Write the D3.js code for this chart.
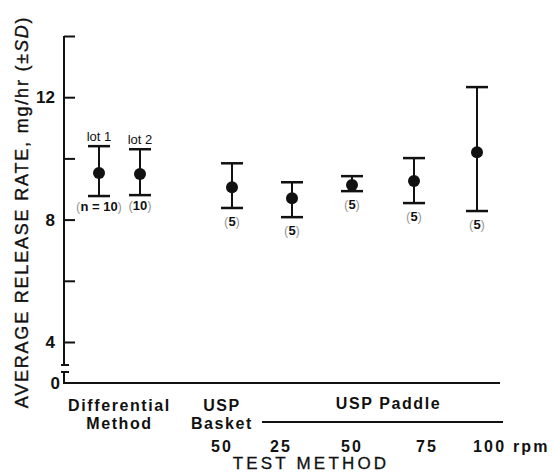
<!DOCTYPE html>
<html>
<head>
<meta charset="utf-8">
<script src="https://d3js.org/d3.v7.min.js"></script>
<style>
  body { margin: 0; background: #fff; }
  text { font-family: "Liberation Sans", Arial, sans-serif; fill: #111; }
</style>
</head>
<body>
<script>
// data
const categories = ['lot 1', 'lot 2', 'Basket 50', 'Paddle 25', 'Paddle 50', 'Paddle 75', 'Paddle 100']
const means = [9.52, 9.49, 9.06, 8.70, 9.13, 9.26, 10.20]
const upper = [10.40, 10.30, 9.84, 9.22, 9.42, 10.01, 12.33]
const lower = [8.77, 8.80, 8.38, 8.08, 8.93, 8.54, 8.28]
const nLabels = ['n = 10', '10', '5', '5', '5', '5', '5']
const topLabels = ['lot 1', 'lot 2', '', '', '', '', '']
const yTicks = [4, 6, 8, 10, 12, 14]
const yTickLabels = {4: '4', 8: '8', 12: '12'}
const rpmLabels = ['50', '25', '50', '75', '100 rpm']

const width = 553, height = 476
const svg = d3.select('body').append('svg')
    .attr('width', width)
    .attr('height', height)

const axisX = 64
const y = d3.scaleLinear().domain([0, 4, 14]).range([383, 342, 36])
const x = d3.scaleOrdinal().domain(categories).range([99, 140, 232, 292, 352, 414, 477])

// y axis (ticks pointing inward, labels only on 4, 8, 12)
const yAxis = d3.axisLeft(y)
    .tickValues(yTicks)
    .tickSize(-11)
    .tickPadding(9)
    .tickFormat(d => yTickLabels[d] || '')
const gy = svg.append('g')
    .attr('transform', `translate(${axisX},0)`)
    .call(yAxis)
gy.select('.domain').remove()
gy.selectAll('.tick line').attr('stroke', '#111').attr('stroke-width', 2)
gy.selectAll('.tick text')
    .attr('font-size', 17)
    .attr('font-weight', 'bold')
    .attr('font-family', '"Liberation Sans", Arial, sans-serif')
    .attr('fill', '#111')

// axis line with break between 4 and 0
const axisLine = svg.append('g').attr('stroke', '#111').attr('stroke-width', 2).attr('fill', 'none')
axisLine.append('path').attr('d', `M${axisX},${y(14)}V365M${axisX - 3},365H${axisX + 5}`)
axisLine.append('path').attr('d', `M${axisX - 3},372H${axisX + 5}M${axisX},372V${y(0)}`)
svg.append('text')
    .attr('x', 60).attr('y', y(0) + 6)
    .attr('text-anchor', 'end')
    .attr('font-size', 17).attr('font-weight', 'bold')
    .text('0')

// x axis and paddle bracket
axisLine.append('path').attr('d', `M${axisX - 1},${y(0)}H500`)
axisLine.append('path').attr('d', `M262,422H503`)

// error bars
const bars = svg.append('g')
categories.forEach((c, i) => {
    const cx = x(c)
    bars.append('line')
        .attr('x1', cx).attr('x2', cx)
        .attr('y1', y(upper[i])).attr('y2', y(lower[i]))
        .attr('stroke', '#111').attr('stroke-width', 2)
    bars.selectAll(null).data([upper[i], lower[i]]).enter().append('line')
        .attr('x1', cx - 11).attr('x2', cx + 11)
        .attr('y1', d => y(d)).attr('y2', d => y(d))
        .attr('stroke', '#111').attr('stroke-width', 2.5)
})

svg.append('g').selectAll('circle')
    .data(categories)
    .enter()
    .append('circle')
        .attr('cx', d => x(d))
        .attr('cy', (d, i) => y(means[i]))
        .attr('r', 6)
        .attr('fill', '#111')

// n labels below each bar
const nText = svg.append('g').selectAll('text')
    .data(categories)
    .enter()
    .append('text')
        .attr('x', d => x(d))
        .attr('y', (d, i) => y(lower[i]) + (i < 2 ? 15 : 18))
        .attr('text-anchor', 'middle')
        .attr('font-size', 13)
        .attr('font-weight', 'bold')
nText.append('tspan').attr('fill', '#999').attr('font-weight', 'normal').text('(')
nText.append('tspan').text((d, i) => nLabels[i])
nText.append('tspan').attr('fill', '#999').attr('font-weight', 'normal').text(')')

svg.append('g').selectAll('text')
    .data(categories.filter((d, i) => topLabels[i]))
    .enter()
    .append('text')
        .attr('x', d => x(d))
        .attr('y', d => y(upper[categories.indexOf(d)]) - 5)
        .attr('text-anchor', 'middle')
        .attr('font-size', 13)
        .text(d => topLabels[categories.indexOf(d)])

// category labels
const catLabel = (tx, ty, t, size, anchor, spacing) => svg.append('text')
    .attr('x', tx).attr('y', ty)
    .attr('text-anchor', anchor || 'middle')
    .attr('font-size', size || 16)
    .attr('font-weight', 'bold')
    .attr('letter-spacing', spacing || 1.6)
    .text(t)

const midLots = (x('lot 1') + x('lot 2')) / 2
catLabel(midLots, 411, 'Differential')
catLabel(midLots, 429, 'Method')
catLabel(x('Basket 50') - 10, 411, 'USP')
catLabel(x('Basket 50') - 10, 429, 'Basket')
catLabel((262 + 503) / 2 + 6, 409, 'USP Paddle')

const rpmX = [x('Basket 50') - 10, x('Paddle 25') - 11, x('Paddle 50'), x('Paddle 75') + 13, x('Paddle 100') - 4]
rpmLabels.forEach((t, i) => catLabel(rpmX[i], 452, t, 16, i === 4 ? 'start' : 'middle', 2.2))

svg.append('text')
    .attr('x', 311).attr('y', 469)
    .attr('text-anchor', 'middle')
    .attr('font-size', 17)
    .attr('letter-spacing', 3.2)
    .attr('stroke', '#111').attr('stroke-width', 0.3)
    .text('TEST METHOD')

// y axis title
const yTitle = svg.append('text')
    .attr('transform', 'translate(28,212) rotate(-90)')
    .attr('text-anchor', 'middle')
    .attr('font-size', 18)
    .attr('letter-spacing', 1.8)
    .attr('stroke', '#111').attr('stroke-width', 0.35)
yTitle.append('tspan').text('AVERAGE RELEASE RATE, mg/hr (\u00b1')
yTitle.append('tspan').attr('font-style', 'italic').text('SD')
yTitle.append('tspan').text(')')
</script>
</body>
</html>
